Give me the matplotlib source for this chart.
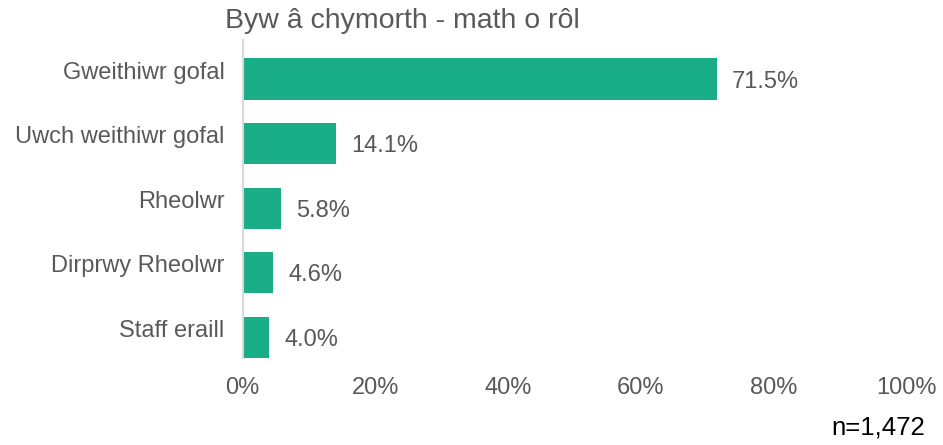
import matplotlib
matplotlib.use("Agg")
import matplotlib.pyplot as plt
import matplotlib.transforms as mtransforms

categories = ["Gweithiwr gofal", "Uwch weithiwr gofal", "Rheolwr", "Dirprwy Rheolwr", "Staff eraill"]
values = [71.5, 14.1, 5.8, 4.6, 4.0]
xticks = [0, 20, 40, 60, 80, 100]
title = "Byw â chymorth - math o rôl"
note = "n=1,472"

plt.rcParams['font.family'] = ['Liberation Sans', 'DejaVu Sans']
gray = '#595959'
bar_color = '#19AE86'

fig = plt.figure(figsize=(9.43, 4.45), dpi=100)
ax = fig.add_axes([242.5/943, 1-358/445, (906-242.5)/943, (358-40)/445])

y = list(range(len(categories)))
ax.barh(y, values, height=0.64, color=bar_color)
for yi, v in zip(y, values):
    ax.text(v + 2.3, yi + 0.04, f"{v:.1f}%", va='center', ha='left', fontsize=17, color=gray)

ax.set_xlim(0, 100)
ax.set_ylim(4.32, -0.604)
ax.set_yticks(y)
ax.set_yticklabels(categories, fontsize=17, color=gray)
ax.set_xticks(xticks)
ax.set_xticklabels([f"{t}%" for t in xticks], fontsize=17, color=gray)
ax.tick_params(axis='both', length=0)
ax.tick_params(axis='y', pad=13)
ax.tick_params(axis='x', pad=14)
offset = mtransforms.ScaledTranslation(0, 9/100, fig.dpi_scale_trans)
for lbl in ax.get_yticklabels():
    lbl.set_transform(lbl.get_transform() + offset)
for s in ['top', 'right', 'bottom']:
    ax.spines[s].set_visible(False)
ax.spines['left'].set_color('#D9D9D9')
ax.spines['left'].set_linewidth(1.5)

fig.text(402/943, 1-21/445, title, ha='center', va='center', fontsize=20.5, color=gray)
fig.text(925/943, 1-428/445, note, ha='right', va='center', fontsize=18.5, color='black')

fig.savefig("out.png", dpi=100)
